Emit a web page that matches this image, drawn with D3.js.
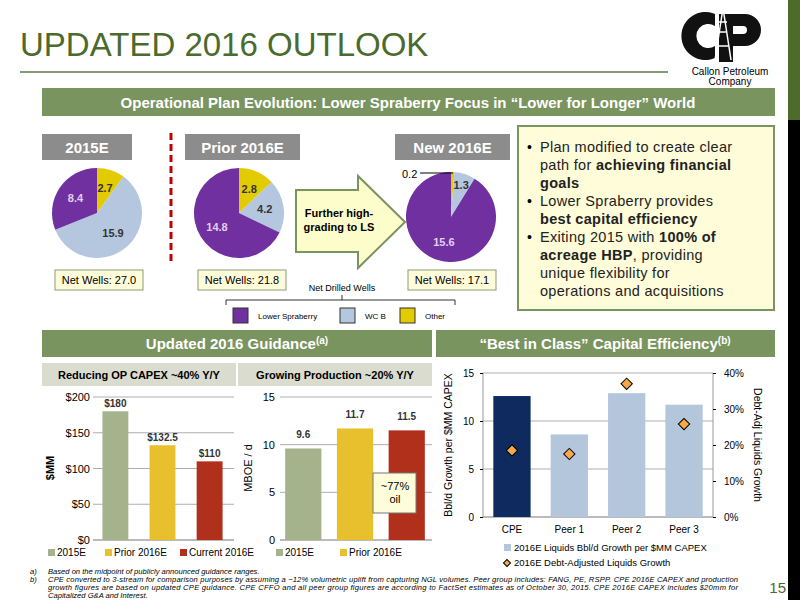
<!DOCTYPE html>
<html><head><meta charset="utf-8">
<script src="https://cdn.jsdelivr.net/npm/d3@7"></script>
<style>body{margin:0;background:#fff}svg{font-family:"Liberation Sans",Arial,sans-serif}</style>
</head><body><svg id="c" width="800" height="600"></svg>
<script>
// pie data (order: Other, WC B, Lower Spraberry — clockwise from top)
var pieTitles = ['2015E', 'Prior 2016E', 'New 2016E'];
var pieOther = [2.7, 2.8, 0.2];
var pieWCB = [15.9, 4.2, 1.3];
var pieLS = [8.4, 14.8, 15.6];
var netWells = ['27.0', '21.8', '17.1'];

var capexCats = ['2015E', 'Prior 2016E', 'Current 2016E'];
var capexVals = [180, 132.5, 110];
var capexLabels = ['$180', '$132.5', '$110'];
var prodVals = [9.6, 11.7, 11.5];

var peerCats = ['CPE', 'Peer 1', 'Peer 2', 'Peer 3'];
var peerBars = [12.6, 8.6, 12.9, 11.7];
var peerGrowth = [0.185, 0.175, 0.37, 0.258];

var svg = d3.select('#c');
var cLS = '#7030a0', cWC = '#b4c7de', cOt = '#e2cb00';
var barCols = ['#a4b38c', '#e8bf2c', '#b0301c'];
var bannerGreen = '#7a9460', paleY = '#fefcd9';

// right strip
svg.append('rect').attr('x', 788).attr('y', 0).attr('width', 12).attr('height', 120).attr('fill', '#4f6b2c');
svg.append('rect').attr('x', 788).attr('y', 120).attr('width', 12).attr('height', 480).attr('fill', '#000');

// title
svg.append('text').attr('x', 20).attr('y', 56).attr('font-size', 33).attr('fill', '#4a6a2e').text('UPDATED 2016 OUTLOOK');
svg.append('line').attr('x1', 20).attr('x2', 668).attr('y1', 72).attr('y2', 72).attr('stroke', '#8a9c78').attr('stroke-width', 2);

// logo
var logo = svg.append('g').attr('transform', 'translate(3,-4)');
logo.append('path').attr('d', 'M712,18 A24,24 0 1,0 712,62 L712,50 A12,12 0 1,1 712,30 Z').attr('fill', '#111');
logo.append('path').attr('d', 'M716,18 L742,18 A16,16 0 0,1 742,50 L730,50 L730,66 L716,66 Z M730,30 L740,30 A4,4 0 0,1 740,38 L730,38 Z').attr('fill', '#111').attr('fill-rule', 'evenodd');
logo.append('path').attr('d', 'M720,12 L712,64 M720,12 L728,64 M714,50 L726,50 M716,36 L724,36 M716,26 L724,26').attr('stroke', '#fff').attr('stroke-width', 1.5).attr('fill', 'none');
svg.append('text').attr('x', 730).attr('y', 75).attr('text-anchor', 'middle').attr('font-size', 10).text('Callon Petroleum');
svg.append('text').attr('x', 730).attr('y', 85).attr('text-anchor', 'middle').attr('font-size', 10).text('Company');

// banner
function banner(x, y, w, h, fill) {
  svg.append('rect').attr('x', x).attr('y', y).attr('width', w).attr('height', h).attr('fill', fill);
}
banner(42, 88, 733, 28, bannerGreen);
svg.append('text').attr('x', 408).attr('y', 108).attr('text-anchor', 'middle').attr('fill', '#fff').attr('font-weight', 'bold').attr('font-size', 15)
  .text('Operational Plan Evolution: Lower Spraberry Focus in \u201cLower for Longer\u201d World');

// pies
var pieX = [97, 239, 451], pieY = [213, 213, 217];
var hdrX = [42, 185, 395], hdrW = [90, 115, 115];
var nwX = [55, 198, 408];
var pie = d3.pie().sort(null).value(function(d) { return d.v; });
var arc = d3.arc().innerRadius(0).outerRadius(45);
pieTitles.forEach(function(t, i) {
  banner(hdrX[i], 134, hdrW[i], 26, '#8c8c8c');
  svg.append('text').attr('x', hdrX[i] + hdrW[i] / 2).attr('y', 153).attr('text-anchor', 'middle').attr('fill', '#fff').attr('font-weight', 'bold').attr('font-size', 15).text(t);
  var data = [{ v: pieOther[i], c: cOt, t: '#333' }, { v: pieWCB[i], c: cWC, t: '#333' }, { v: pieLS[i], c: cLS, t: '#e0d0f0' }];
  var g = svg.append('g').attr('transform', 'translate(' + pieX[i] + ',' + pieY[i] + ')');
  var arcs = pie(data);
  g.selectAll('path').data(arcs).enter().append('path').attr('d', arc).attr('fill', function(d) { return d.data.c; });
  var la = d3.arc().innerRadius(26).outerRadius(26);
  g.selectAll('text').data(arcs.filter(function(d) { return d.data.v >= 1; })).enter().append('text')
    .attr('transform', function(d) {
      var c = (d.data.v < 2) ? d3.arc().innerRadius(33).outerRadius(33).centroid(d) : la.centroid(d);
      return 'translate(' + c + ')';
    })
    .attr('text-anchor', 'middle').attr('dy', '0.35em').attr('font-size', 11).attr('font-weight', 'bold')
    .attr('fill', function(d) { return d.data.t; }).text(function(d) { return d.data.v.toFixed(1); });
  svg.append('rect').attr('x', nwX[i]).attr('y', 270).attr('width', 88).attr('height', 20).attr('fill', paleY).attr('stroke', '#8a9c78');
  svg.append('text').attr('x', nwX[i] + 44).attr('y', 284).attr('text-anchor', 'middle').attr('font-size', 11).text('Net Wells: ' + netWells[i]);
});
// 0.2 callout
svg.append('text').attr('x', 402).attr('y', 178).attr('font-size', 11).text('0.2');
svg.append('line').attr('x1', 420).attr('x2', 453).attr('y1', 173).attr('y2', 173).attr('stroke', '#000');

// dashed red divider
svg.append('line').attr('x1', 171).attr('x2', 171).attr('y1', 133).attr('y2', 263).attr('stroke', '#c00000').attr('stroke-width', 3).attr('stroke-dasharray', '7,4');

// arrow
svg.append('path').attr('d', 'M296,190 L358,190 L358,176 L405,222 L358,268 L358,252 L296,252 Z').attr('fill', '#fdfccb').attr('stroke', '#7a9460').attr('stroke-width', 2);
svg.append('text').attr('x', 339).attr('y', 217).attr('text-anchor', 'middle').attr('font-size', 11).attr('font-weight', 'bold').text('Further high-');
svg.append('text').attr('x', 339).attr('y', 231).attr('text-anchor', 'middle').attr('font-size', 11).attr('font-weight', 'bold').text('grading to LS');

// legend for pies
svg.append('text').attr('x', 342).attr('y', 291).attr('text-anchor', 'middle').attr('font-size', 9).text('Net Drilled Wells');
svg.append('path').attr('d', 'M226,305 L226,300 L455,300 L455,305 M342,300 L342,295').attr('stroke', '#333').attr('fill', 'none');
[[233, cLS, 'Lower Spraberry'], [340, cWC, 'WC B'], [400, cOt, 'Other']].forEach(function(l) {
  svg.append('rect').attr('x', l[0]).attr('y', 308).attr('width', 15).attr('height', 15).attr('fill', l[1]).attr('stroke', '#333');
  svg.append('text').attr('x', l[0] + 25).attr('y', 319).attr('font-size', 8).text(l[2]);
});

// text box
svg.append('rect').attr('x', 518).attr('y', 126).attr('width', 256).attr('height', 184).attr('fill', paleY).attr('stroke', '#7a9460').attr('stroke-width', 2);
var bullets = [
  [[['Plan modified to create clear', 0]], [['path for ', 0], ['achieving financial', 1]], [['goals', 1]]],
  [[['Lower Spraberry provides', 0]], [['best capital efficiency', 1]]],
  [[['Exiting 2015 with ', 0], ['100% of', 1]], [['acreage HBP', 1], [', providing', 0]], [['unique flexibility for', 0]], [['operations and acquisitions', 0]]]
];
var ly = 152;
bullets.forEach(function(b) {
  svg.append('text').attr('x', 527).attr('y', ly).attr('font-size', 14).text('\u2022');
  b.forEach(function(line) {
    var t = svg.append('text').attr('x', 540).attr('y', ly).attr('font-size', 14.5).attr('letter-spacing', 0.3).attr('fill', '#222');
    line.forEach(function(p) { t.append('tspan').attr('font-weight', p[1] ? 'bold' : 'normal').text(p[0]); });
    ly += 18;
  });
});

// section banners
banner(42, 330, 390, 27, bannerGreen);
banner(436, 330, 339, 27, bannerGreen);
var t1 = svg.append('text').attr('x', 237).attr('y', 349).attr('text-anchor', 'middle').attr('fill', '#fff').attr('font-weight', 'bold').attr('font-size', 15);
t1.append('tspan').text('Updated 2016 Guidance');
t1.append('tspan').attr('font-size', 10).attr('dy', -5).text('(a)');
var t2 = svg.append('text').attr('x', 605).attr('y', 349).attr('text-anchor', 'middle').attr('fill', '#fff').attr('font-weight', 'bold').attr('font-size', 15);
t2.append('tspan').text('\u201cBest in Class\u201d Capital Efficiency');
t2.append('tspan').attr('font-size', 10).attr('dy', -5).text('(b)');
banner(42, 363, 194, 23, '#d9dccf');
banner(238, 363, 194, 23, '#d9dccf');
svg.append('text').attr('x', 139).attr('y', 379).attr('text-anchor', 'middle').attr('font-weight', 'bold').attr('font-size', 11).text('Reducing OP CAPEX ~40% Y/Y');
svg.append('text').attr('x', 335).attr('y', 379).attr('text-anchor', 'middle').attr('font-weight', 'bold').attr('font-size', 11).text('Growing Production ~20% Y/Y');

function gridlines(g, y, x0, x1, ticks) {
  g.selectAll('.gl').data(ticks).enter().append('line').attr('x1', x0).attr('x2', x1)
    .attr('y1', function(d) { return y(d); }).attr('y2', function(d) { return y(d); }).attr('stroke', '#999').attr('stroke-width', 0.8);
}

// chart 1: capex
var y1 = d3.scaleLinear().domain([0, 200]).range([540, 397]);
var x1 = d3.scaleBand().domain(capexCats).range([93, 232]).paddingInner(0.45).paddingOuter(0.2);
var g1 = svg.append('g');
gridlines(g1, y1, 93, 234, [50, 100, 150, 200]);
g1.append('line').attr('x1', 93).attr('x2', 234).attr('y1', 540).attr('y2', 540).attr('stroke', '#777');
g1.append('g').attr('transform', 'translate(93,0)').call(d3.axisLeft(y1).tickValues([0, 50, 100, 150, 200]).tickSize(0).tickPadding(3).tickFormat(function(d) { return '$' + d; }))
  .call(function(a) { a.select('.domain').remove(); a.selectAll('text').attr('font-size', 11).attr('font-family', 'Liberation Sans'); });
g1.selectAll('rect').data(capexVals).enter().append('rect').attr('x', function(d, i) { return x1(capexCats[i]); }).attr('width', x1.bandwidth())
  .attr('y', function(d) { return y1(d); }).attr('height', function(d) { return 540 - y1(d); }).attr('fill', function(d, i) { return barCols[i]; });
g1.selectAll('.vl').data(capexVals).enter().append('text').attr('x', function(d, i) { return x1(capexCats[i]) + x1.bandwidth() / 2; })
  .attr('y', function(d) { return y1(d) - 4; }).attr('text-anchor', 'middle').attr('font-size', 10).attr('font-weight', 'bold').attr('fill', '#333')
  .text(function(d, i) { return capexLabels[i]; });
svg.append('text').attr('transform', 'translate(54,468) rotate(-90)').attr('text-anchor', 'middle').attr('font-size', 11).attr('font-weight', 'bold').text('$MM');
var lx = 48;
capexCats.forEach(function(c, i) {
  svg.append('rect').attr('x', lx).attr('y', 549).attr('width', 7).attr('height', 7).attr('fill', barCols[i]);
  svg.append('text').attr('x', lx + 9).attr('y', 556).attr('font-size', 10).text(c);
  lx += [57, 75, 0][i];
});

// chart 2: production
var y2 = d3.scaleLinear().domain([0, 15]).range([540, 397]);
var x2 = d3.scaleBand().domain(capexCats).range([280, 430]).paddingInner(0.3).paddingOuter(0.1);
var g2 = svg.append('g');
gridlines(g2, y2, 280, 432, [5, 10, 15]);
g2.append('line').attr('x1', 280).attr('x2', 432).attr('y1', 540).attr('y2', 540).attr('stroke', '#777');
g2.append('g').attr('transform', 'translate(278,0)').call(d3.axisLeft(y2).tickValues([0, 5, 10, 15]).tickSize(0).tickPadding(3))
  .call(function(a) { a.select('.domain').remove(); a.selectAll('text').attr('font-size', 11).attr('font-family', 'Liberation Sans'); });
g2.selectAll('rect').data(prodVals).enter().append('rect').attr('x', function(d, i) { return x2(capexCats[i]); }).attr('width', x2.bandwidth())
  .attr('y', function(d) { return y2(d); }).attr('height', function(d) { return 540 - y2(d); }).attr('fill', function(d, i) { return barCols[i]; });
g2.selectAll('.vl').data(prodVals).enter().append('text').attr('x', function(d, i) { return x2(capexCats[i]) + x2.bandwidth() / 2; })
  .attr('y', function(d) { return y2(d) - 10; }).attr('text-anchor', 'middle').attr('font-size', 10).attr('font-weight', 'bold').attr('fill', '#333')
  .text(function(d) { return d.toFixed(1); });
svg.append('text').attr('transform', 'translate(252,468) rotate(-90)').attr('text-anchor', 'middle').attr('font-size', 11).text('MBOE / d');
svg.append('rect').attr('x', 373).attr('y', 473).attr('width', 43).attr('height', 40).attr('fill', paleY).attr('stroke', '#777');
svg.append('text').attr('x', 395).attr('y', 490).attr('text-anchor', 'middle').attr('font-size', 11).text('~77%');
svg.append('text').attr('x', 395).attr('y', 503).attr('text-anchor', 'middle').attr('font-size', 11).text('oil');
[[276, 0, '2015E'], [340, 1, 'Prior 2016E']].forEach(function(l) {
  svg.append('rect').attr('x', l[0]).attr('y', 549).attr('width', 7).attr('height', 7).attr('fill', barCols[l[1]]);
  svg.append('text').attr('x', l[0] + 9).attr('y', 556).attr('font-size', 10).text(l[2]);
});

// chart 3: peers
var y3 = d3.scaleLinear().domain([0, 15]).range([517, 373]);
var y3r = d3.scaleLinear().domain([0, 0.4]).range([517, 373]);
var x3 = d3.scaleBand().domain(peerCats).range([483, 713]).paddingInner(0.35).paddingOuter(0.18);
var g3 = svg.append('g');
gridlines(g3, y3, 483, 713, [5, 10, 15]);
g3.append('line').attr('x1', 483).attr('x2', 713).attr('y1', 517).attr('y2', 517).attr('stroke', '#777');
g3.append('line').attr('x1', 483).attr('x2', 483).attr('y1', 373).attr('y2', 517).attr('stroke', '#999');
g3.append('line').attr('x1', 713).attr('x2', 713).attr('y1', 373).attr('y2', 517).attr('stroke', '#999');
g3.append('g').attr('transform', 'translate(483,0)').call(d3.axisLeft(y3).tickValues([0, 5, 10, 15]).tickSize(3).tickPadding(6))
  .call(function(a) { a.select('.domain').remove(); a.selectAll('text').attr('font-size', 10).attr('font-family', 'Liberation Sans'); });
g3.append('g').attr('transform', 'translate(713,0)').call(d3.axisRight(y3r).ticks(4).tickSize(3).tickPadding(8).tickFormat(d3.format('.0%')))
  .call(function(a) { a.select('.domain').remove(); a.selectAll('text').attr('font-size', 10).attr('font-family', 'Liberation Sans'); });
g3.append('g').attr('transform', 'translate(0,517)').call(d3.axisBottom(x3).tickSize(0).tickPadding(9))
  .call(function(a) { a.select('.domain').remove(); a.selectAll('text').attr('font-size', 10).attr('font-family', 'Liberation Sans'); });
g3.selectAll('rect').data(peerBars).enter().append('rect').attr('x', function(d, i) { return x3(peerCats[i]); }).attr('width', x3.bandwidth())
  .attr('y', function(d) { return y3(d); }).attr('height', function(d) { return 517 - y3(d); })
  .attr('fill', function(d, i) { return i === 0 ? '#0f2a5f' : '#b4c6dc'; });
g3.selectAll('.dm').data(peerGrowth).enter().append('path')
  .attr('transform', function(d, i) { return 'translate(' + (x3(peerCats[i]) + x3.bandwidth() / 2) + ',' + y3r(d) + ') rotate(45)'; })
  .attr('d', 'M-4,-4 L4,-4 L4,4 L-4,4 Z').attr('fill', '#f5a94a').attr('stroke', '#000').attr('stroke-width', 1);
svg.append('text').attr('transform', 'translate(452,445) rotate(-90)').attr('text-anchor', 'middle').attr('font-size', 10.5).text('Bbl/d Growth per $MM CAPEX');
svg.append('text').attr('transform', 'translate(754,445) rotate(90)').attr('text-anchor', 'middle').attr('font-size', 10.5).text('Debt-Adj Liquids Growth');
svg.append('rect').attr('x', 504).attr('y', 544).attr('width', 7).attr('height', 7).attr('fill', '#b4c6dc');
svg.append('text').attr('x', 514).attr('y', 551).attr('font-size', 9.5).text('2016E Liquids Bbl/d Growth per $MM CAPEX');
svg.append('path').attr('transform', 'translate(507,563) rotate(45)').attr('d', 'M-2.5,-2.5 L2.5,-2.5 L2.5,2.5 L-2.5,2.5 Z').attr('fill', '#f5a94a').attr('stroke', '#000');
svg.append('text').attr('x', 514).attr('y', 566).attr('font-size', 9.5).text('2016E Debt-Adjusted Liquids Growth');

// footnotes
var notes = [['a)', 'Based on the midpoint of publicly announced guidance ranges.'],
  ['b)', 'CPE converted to 3-stream for comparison purposes by assuming a ~12% volumetric uplift from capturing NGL volumes. Peer group includes: FANG, PE, RSPP. CPE 2016E CAPEX and production'],
  ['', 'growth figures are based on updated CPE guidance. CPE CFFO and all peer group figures are according to FactSet estimates as of October 30, 2015. CPE 2016E CAPEX includes $20mm for'],
  ['', 'Capitalized G&A and Interest.']];
notes.forEach(function(n, i) {
  svg.append('text').attr('x', 30).attr('y', 574 + i * 8).attr('font-size', 7.6).attr('font-style', 'italic').text(n[0]);
  svg.append('text').attr('x', 48).attr('y', 574 + i * 8).attr('font-size', 7.6).attr('font-style', 'italic').attr('textLength', n[1].length > 100 ? 690 : null).text(n[1]);
});
svg.append('text').attr('x', 786).attr('y', 593).attr('text-anchor', 'end').attr('font-size', 15).attr('fill', '#4a6a2e').text('15');
</script></body></html>
